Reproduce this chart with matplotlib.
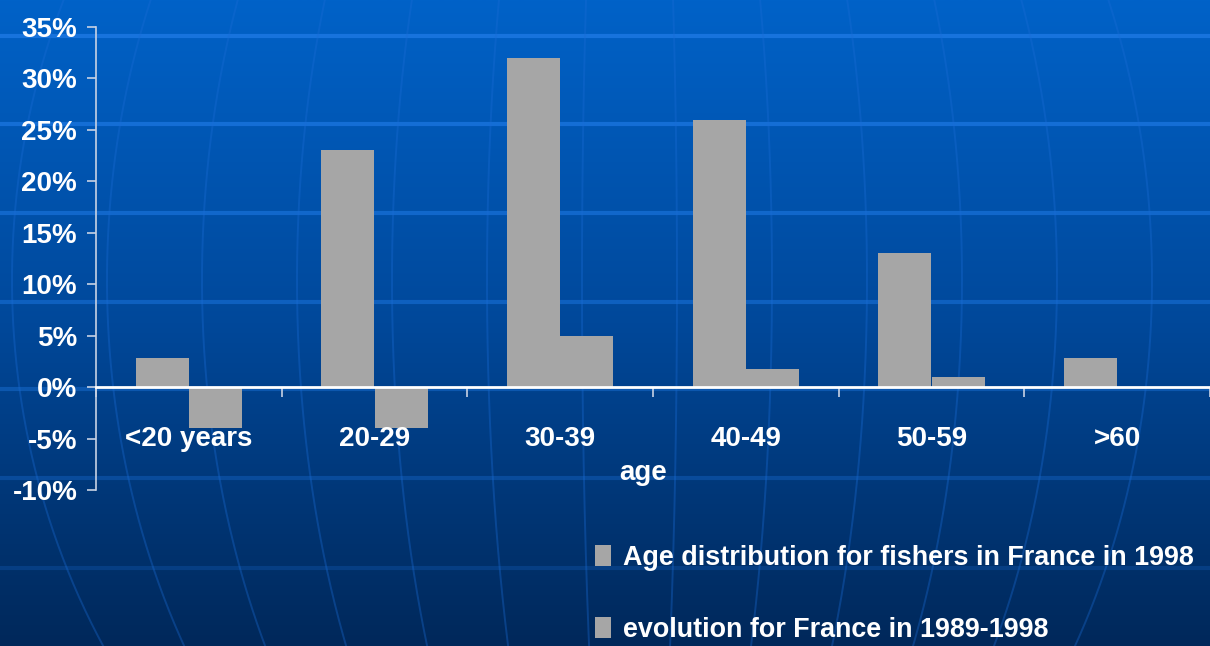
import matplotlib.pyplot as plt
import numpy as np
from matplotlib.colors import LinearSegmentedColormap

# Data
categories = ['<20 years', '20-29', '30-39', '40-49', '50-59', '>60']
dist_1998 = [2.8, 23, 32, 26, 13, 2.8]      # Age distribution for fishers in France in 1998 (%)
evol_89_98 = [-4, -4, 5, 1.8, 1, 0]          # evolution for France in 1989-1998 (%)
series_names = ['Age distribution for fishers in France in 1998',
                'evolution for France in 1989-1998']
yticks = [-10, -5, 0, 5, 10, 15, 20, 25, 30, 35]

plt.rcParams['font.family'] = ['Liberation Sans', 'DejaVu Sans']
plt.rcParams['font.weight'] = 'bold'

W, H = 1210, 646
fig = plt.figure(figsize=(W / 100, H / 100), dpi=100)

# Slide background: blue gradient with faint globe lines
bg = fig.add_axes([0, 0, 1, 1], zorder=0)
bg.set_xlim(0, W)
bg.set_ylim(H, 0)
bg.axis('off')
cmap = LinearSegmentedColormap.from_list('slide', ['#0062c8', '#00489a', '#00285a'])
grad = np.linspace(0, 1, 256).reshape(-1, 1)
bg.imshow(grad, cmap=cmap, aspect='auto', extent=(0, W, H, 0))

for i, yy in enumerate([36, 124, 213, 302, 389, 478, 568]):
    bg.axhline(yy, color='#1f7ae6', lw=3, alpha=0.75 - 0.09 * i)

cx, cy, R = 630, 280, 700
yy = np.linspace(0, H, 200)
fac = np.sqrt(1 - ((yy - cy) / R) ** 2)
for k in range(13):
    a = 12 + 95 * k - cx
    bg.plot(cx + a * fac, yy, color='#1a6cd6', lw=1.4, alpha=0.35)

# Chart
ax = fig.add_axes([96 / W, 1 - 490 / H, (W - 96) / W, 463 / H], zorder=1)
ax.patch.set_alpha(0)

x = np.arange(len(categories))
w = 0.286
b1 = ax.bar(x - w / 2, dist_1998, w, color='#a6a6a6', label=series_names[0])
b2 = ax.bar(x + w / 2, evol_89_98, w, color='#a6a6a6', label=series_names[1])

ax.set_xlim(-0.5, len(categories) - 0.5)
ax.set_ylim(-10, 35)
ax.set_yticks(yticks)
ax.set_yticklabels([f'{v}%' for v in yticks])

for s in ['top', 'right']:
    ax.spines[s].set_visible(False)
ax.spines['left'].set_color('#c8d2e4')
ax.spines['left'].set_linewidth(1.2)
ax.spines['bottom'].set_position(('data', 0))
ax.spines['bottom'].set_color('white')
ax.spines['bottom'].set_linewidth(2)

ax.set_xticks(x)
ax.set_xticklabels(categories)
ax.set_xticks(np.arange(len(categories) + 1) - 0.5, minor=True)
ax.tick_params(axis='x', which='major', length=0, pad=28, labelsize=20, labelcolor='white')
ax.tick_params(axis='x', which='minor', length=7, width=1.2, color='#c8d2e4', direction='out')
ax.tick_params(axis='y', length=6.5, width=1.2, color='#c8d2e4', pad=7, labelsize=20, labelcolor='white')

ax.set_xlabel('age', fontsize=20, color='white', fontweight='bold')
ax.xaxis.label.set_va('baseline')
ax.xaxis.set_label_coords(0.491, 0.022)

fig.legend(handles=[b1, b2], loc='upper left', bbox_to_anchor=(595 / W, 1 - 545 / H),
           frameon=False, fontsize=19.4, labelcolor='white', labelspacing=1.7,
           handlelength=0.6, handleheight=0.8, handletextpad=0.45,
           borderpad=0, borderaxespad=0)

plt.savefig('out.png', dpi=100)
